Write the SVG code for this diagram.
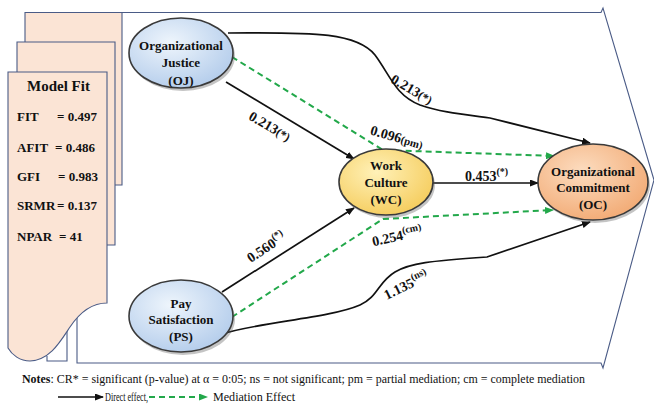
<svg xmlns="http://www.w3.org/2000/svg" width="654" height="405" viewBox="0 0 654 405">
<style>
.frame{fill:none;stroke:#4a5b86;stroke-width:1.1}
.page{fill:#fbe4d5;stroke:#4a5b86;stroke-width:1.1}
.nd{stroke:#3a3a3a;stroke-width:1.6}
.nt{font-family:"Liberation Serif",serif;font-weight:bold;font-size:13px;fill:#111;text-anchor:middle}
.mf{font-family:"Liberation Serif",serif;font-weight:bold;font-size:13px;fill:#111}
.lb{font-family:"Liberation Serif",serif;font-weight:bold;font-size:14px;fill:#111;text-anchor:middle}
.sm{font-size:10px}
.dir{fill:none;stroke:#111;stroke-width:1.7}
.med{fill:none;stroke:#22a84a;stroke-width:2;stroke-dasharray:6 4}
.note{font-family:"Liberation Serif",serif;font-size:11.5px;fill:#111}
</style>
<defs>
<marker id="ah" markerWidth="9" markerHeight="7" refX="8" refY="3.5" orient="auto" markerUnits="userSpaceOnUse"><path d="M0,0 L9,3.5 L0,7 Z" fill="#111"/></marker>
<marker id="ag" markerWidth="9" markerHeight="7" refX="8" refY="3.5" orient="auto" markerUnits="userSpaceOnUse"><path d="M0,0 L9,3.5 L0,7 Z" fill="#22a84a"/></marker>
<radialGradient id="gb" cx="40%" cy="35%" r="70%"><stop offset="0" stop-color="#eef5fc"/><stop offset="1" stop-color="#b3cceb"/></radialGradient>
<radialGradient id="gy" cx="40%" cy="35%" r="70%"><stop offset="0" stop-color="#fff1b8"/><stop offset="1" stop-color="#f5cc5c"/></radialGradient>
<radialGradient id="go" cx="40%" cy="35%" r="70%"><stop offset="0" stop-color="#fcdcbf"/><stop offset="1" stop-color="#f2aa74"/></radialGradient>
</defs>

<g id="frame">
<path class="frame" d="M77,12.5 H601 L603,8 L654,180 L603,368 L601,363 H77 Z"/>
</g>

<g id="model-fit">
<path class="page" d="M25,42 L25,12.5 L122,12.5 L122,185 L115,185"/>
<path class="page" d="M17,72 L17,42 L115,42 L115,245 L107,245"/>
<path class="frame" d="M67,331 V361 H47 V356"/>
<path class="page" d="M8,72 H107 V303 C92,303 80,312 70,327 C60,342 50,360 30,361 C20,361 12,355 8,348 Z"/>
<text class="mf" x="27" y="91" font-size="15" style="font-size:15px">Model Fit</text>
<text class="mf" x="17" y="121">FIT</text><text class="mf" x="57" y="121">= 0.497</text>
<text class="mf" x="17" y="152">AFIT</text><text class="mf" x="55" y="152">= 0.486</text>
<text class="mf" x="17" y="181">GFI</text><text class="mf" x="58" y="181">= 0.983</text>
<text class="mf" x="17" y="210">SRMR</text><text class="mf" x="57" y="210">= 0.137</text>
<text class="mf" x="17" y="241">NPAR</text><text class="mf" x="59" y="241">= 41</text>
</g>

<g id="connectors">
<path class="dir" d="M228,33 C300,33 355,30 375,55 C390,75 395,95 420,105 C440,112 460,114 490,118 L590,143" marker-end="url(#ah)"/>
<path class="dir" d="M226,82 L354,159" marker-end="url(#ah)"/>
<path class="dir" d="M222,292 L354,208" marker-end="url(#ah)"/>
<path class="dir" d="M433,183 L538,183" marker-end="url(#ah)"/>
<path class="dir" d="M222,334 C260,322 330,318 360,305 C378,297 378,282 395,272 C410,263 430,261 487,257 L590,222" marker-end="url(#ah)"/>
<path class="med" d="M232,57 L383,150 L554,156" marker-end="url(#ag)"/>
<path class="med" d="M232,317 L383,219 L553,210" marker-end="url(#ag)"/>
<text class="lb" transform="translate(412,89) rotate(30)" x="0" y="5">0.213<tspan style="font-size:12px">(*)</tspan></text>
<text class="lb" transform="translate(270,126) rotate(30)" x="0" y="5">0.213<tspan style="font-size:12px">(*)</tspan></text>
<text class="lb" transform="translate(397,137) rotate(16)" x="0" y="5">0.096<tspan style="font-size:11px">(pm)</tspan></text>
<text class="lb" x="465" y="181" style="text-anchor:start">0.453<tspan class="sm" dy="-6">(*)</tspan></text>
<text class="lb" transform="translate(266,247) rotate(-33)" x="0" y="5">0.560<tspan class="sm" dy="-6">(*)</tspan></text>
<text class="lb" transform="translate(397,236) rotate(-12)" x="0" y="5">0.254<tspan class="sm" dy="-6">(cm)</tspan></text>
<text class="lb" transform="translate(406,285) rotate(-26)" x="0" y="5">1.135<tspan class="sm" dy="-6">(ns)</tspan></text>
</g>

<g id="OJ">
<ellipse cx="183" cy="56" rx="52" ry="35" fill="#555" opacity="0.35"/>
<ellipse class="nd" cx="181" cy="53" rx="52" ry="35" fill="url(#gb)"/>
<text class="nt" x="181" y="50">Organizational</text>
<text class="nt" x="181" y="67">Justice</text>
<text class="nt" x="181" y="85">(OJ)</text>
</g>

<g id="PS">
<ellipse cx="183" cy="319" rx="52" ry="36" fill="#555" opacity="0.35"/>
<ellipse class="nd" cx="181" cy="316" rx="52" ry="36" fill="url(#gb)"/>
<text class="nt" x="181" y="308">Pay</text>
<text class="nt" x="181" y="324">Satisfaction</text>
<text class="nt" x="181" y="341">(PS)</text>
</g>

<g id="WC">
<ellipse cx="388" cy="185" rx="47" ry="33" fill="#555" opacity="0.35"/>
<ellipse class="nd" cx="386" cy="182" rx="47" ry="33" fill="url(#gy)"/>
<text class="nt" x="386" y="170">Work</text>
<text class="nt" x="386" y="187">Culture</text>
<text class="nt" x="386" y="204">(WC)</text>
</g>

<g id="OC">
<ellipse cx="595" cy="185" rx="55" ry="38" fill="#555" opacity="0.35"/>
<ellipse class="nd" cx="593" cy="182" rx="55" ry="38" fill="url(#go)"/>
<text class="nt" x="593" y="176">Organizational</text>
<text class="nt" x="593" y="192">Commitment</text>
<text class="nt" x="593" y="209">(OC)</text>
</g>

<g id="notes">
<text class="note" x="22" y="383" textLength="563" lengthAdjust="spacingAndGlyphs"><tspan font-weight="bold">Notes</tspan>:  CR* = significant (p-value) at α = 0:05; ns = not significant;  pm = partial mediation; cm = complete mediation</text>
<line x1="58" y1="397" x2="103" y2="397" stroke="#111" stroke-width="1.7" marker-end="url(#ah)"/>
<text class="note" x="105" y="401" textLength="43" lengthAdjust="spacingAndGlyphs">Direct effect,</text>
<line x1="149" y1="397" x2="207" y2="397" stroke="#22a84a" stroke-width="2" stroke-dasharray="6 4" marker-end="url(#ag)"/>
<text class="note" x="213" y="401" textLength="82" lengthAdjust="spacingAndGlyphs">Mediation Effect</text>
</g>
</svg>
